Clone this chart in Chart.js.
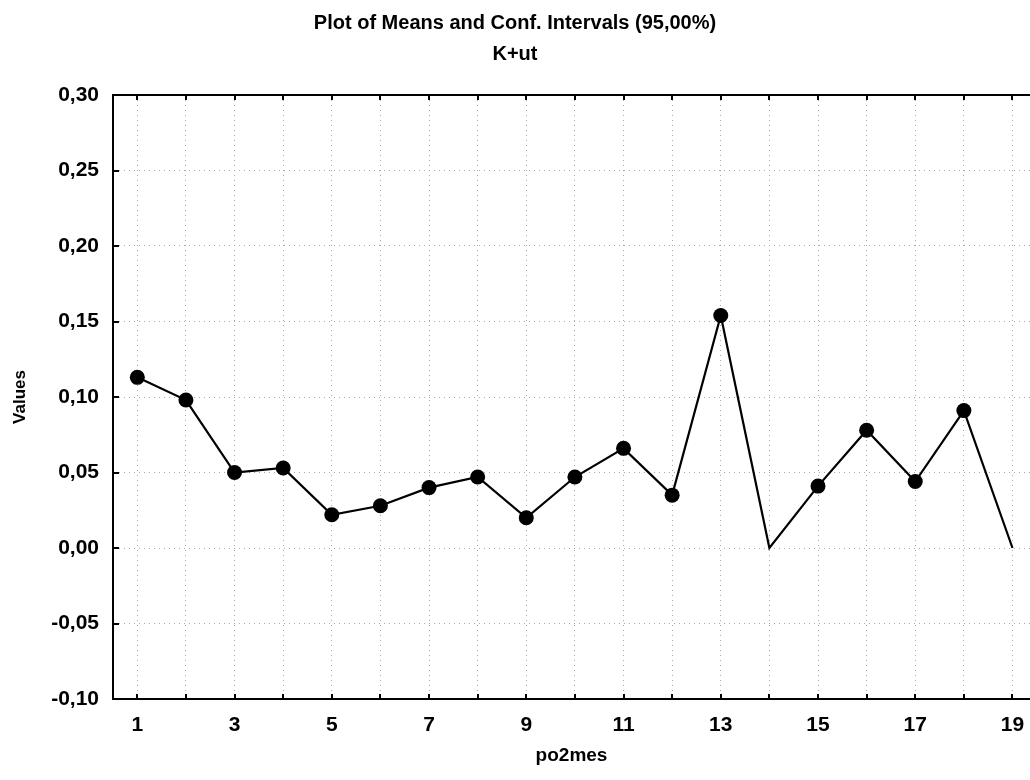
<!DOCTYPE html>
<html>
<head>
<meta charset="utf-8">
<script src="https://cdn.jsdelivr.net/npm/chart.js@4"></script>
<style>
  html, body { margin: 0; padding: 0; background: #fff; }
  #wrap { width: 1030px; height: 780px; position: relative; }
</style>
</head>
<body>
<div id="wrap"><canvas id="c" width="1030" height="780"></canvas></div>
<script>
// ---- data ----
const categories = [1, 2, 3, 4, 5, 6, 7, 8, 9, 10, 11, 12, 13, 14, 15, 16, 17, 18, 19];
const meanValues = [0.113, 0.098, 0.050, 0.053, 0.022, 0.028, 0.040, 0.047, 0.020, 0.047,
                    0.066, 0.035, 0.154, 0.000, 0.041, 0.078, 0.044, 0.091, 0.000];
const xTickValues = [1, 2, 3, 4, 5, 6, 7, 8, 9, 10, 11, 12, 13, 14, 15, 16, 17, 18, 19];
const xTickLabels = ['1', '', '3', '', '5', '', '7', '', '9', '', '11', '', '13', '', '15', '', '17', '', '19'];
const yTickValues = [-0.10, -0.05, 0.00, 0.05, 0.10, 0.15, 0.20, 0.25, 0.30];
const yTickLabels = ['-0,10', '-0,05', '0,00', '0,05', '0,10', '0,15', '0,20', '0,25', '0,30'];
const titleText = 'Plot of Means and Conf. Intervals (95,00%)';
const subtitleText = 'K+ut';
const xTitle = 'po2mes';
const yTitle = 'Values';

const FONT = '"Liberation Sans", Arial, sans-serif';

const points = categories.map((c, i) => ({ x: c, y: meanValues[i] }));

const frame = {
  id: 'frame',
  afterDraw(chart) {
    const { ctx, chartArea: a, scales } = chart;
    const xs = scales.x, ys = scales.y;
    ctx.save();
    ctx.strokeStyle = '#000';
    ctx.lineWidth = 2;
    ctx.setLineDash([]);
    // top border
    ctx.beginPath();
    ctx.moveTo(a.left, a.top);
    ctx.lineTo(a.right, a.top);
    ctx.stroke();
    // inward tick marks
    ctx.beginPath();
    xTickValues.forEach(v => {
      const px = Math.round(xs.getPixelForValue(v));
      ctx.moveTo(px, a.bottom);
      ctx.lineTo(px, a.bottom - 5);
      ctx.moveTo(px, a.top);
      ctx.lineTo(px, a.top + 5);
    });
    yTickValues.forEach(v => {
      const py = Math.round(ys.getPixelForValue(v));
      ctx.moveTo(a.left, py);
      ctx.lineTo(a.left + 6, py);
    });
    ctx.stroke();
    ctx.restore();
  }
};

new Chart(document.getElementById('c'), {
  type: 'line',
  data: {
    datasets: [{
      data: points,
      borderColor: '#000',
      borderWidth: 2.2,
      backgroundColor: '#000',
      pointBackgroundColor: '#000',
      pointBorderColor: '#000',
      pointRadius: ctx => (ctx.raw && ctx.raw.y === 0 ? 0 : 7.5),
      pointBorderWidth: 0,
      pointHoverRadius: 7.5,
      tension: 0,
      clip: false
    }]
  },
  options: {
    responsive: false,
    animation: false,
    devicePixelRatio: 1,
    layout: { padding: 0, autoPadding: false },
    plugins: {
      legend: { display: false },
      tooltip: { enabled: false },
      title: {
        display: true,
        text: titleText,
        color: '#000',
        font: { family: FONT, size: 20, weight: 'bold', lineHeight: 1.2 },
        padding: { top: 11, bottom: 2 }
      },
      subtitle: {
        display: true,
        text: subtitleText,
        color: '#000',
        font: { family: FONT, size: 20, weight: 'bold', lineHeight: 1.2 },
        padding: { top: 5, bottom: 29 }
      }
    },
    scales: {
      x: {
        type: 'linear',
        min: 0.5,
        max: 19.36,
        afterBuildTicks: s => { s.ticks = xTickValues.map(v => ({ value: v })); },
        afterFit: s => { s.height = 81; s.paddingRight = 0; s.paddingLeft = 0; },
        ticks: {
          autoSkip: false,
          maxRotation: 0,
          color: '#000',
          padding: 14,
          font: { family: FONT, size: 21, weight: 'bold' },
          callback: (v, i) => xTickLabels[i]
        },
        grid: {
          drawTicks: false,
          color: '#a8a8a8',
          lineWidth: 1
        },
        border: { color: '#000', width: 2, dash: [1, 4] },
        title: {
          display: true,
          text: xTitle,
          color: '#000',
          font: { family: FONT, size: 19, weight: 'bold' },
          padding: { top: 0, bottom: 13 }
        }
      },
      y: {
        type: 'linear',
        min: -0.10,
        max: 0.30,
        afterBuildTicks: s => { s.ticks = yTickValues.map(v => ({ value: v })); },
        afterFit: s => { s.width = 113; s.paddingTop = 0; s.paddingBottom = 0; },
        ticks: {
          color: '#000',
          padding: 14,
          font: { family: FONT, size: 21, weight: 'bold' },
          callback: (v, i) => yTickLabels[i]
        },
        grid: {
          drawTicks: false,
          color: '#a8a8a8',
          lineWidth: 1
        },
        border: { color: '#000', width: 2, dash: [1, 4] },
        title: {
          display: true,
          text: yTitle,
          color: '#000',
          font: { family: FONT, size: 17, weight: 'bold' },
          padding: { top: 10, bottom: 4 }
        }
      }
    }
  },
  plugins: [frame]
});
</script>
</body>
</html>
